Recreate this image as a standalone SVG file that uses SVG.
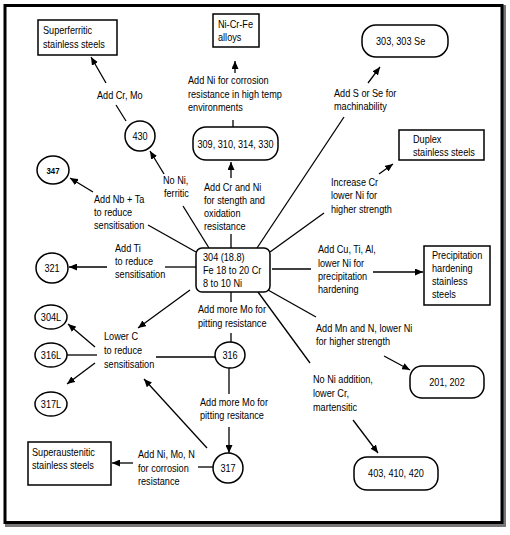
<svg xmlns="http://www.w3.org/2000/svg" width="510" height="535" viewBox="0 0 510 535">
<defs>
<marker id="ah" markerUnits="userSpaceOnUse" markerWidth="8" markerHeight="7" refX="8" refY="3.5" orient="auto">
<path d="M0,0 L8,3.5 L0,7 z" fill="#000"/>
</marker>
<style>
text{font-family:"Liberation Sans",Arial,sans-serif;font-size:10.5px;fill:#000}
.n{fill:#fff;stroke:#000;stroke-width:1.5}
.c{stroke:#000;stroke-width:1.3;fill:none}
.a{stroke:#000;stroke-width:1.3;fill:none;marker-end:url(#ah)}
.m{text-anchor:middle}
</style>
</defs>
<rect width="510" height="535" fill="#fff"/>
<rect x="7" y="7" width="497" height="518" fill="none" stroke="#777" stroke-width="4"/>
<rect x="5" y="5.5" width="497" height="517" fill="#fff" stroke="#000" stroke-width="3"/>

<g id="connectors">
<line class="a" x1="235" y1="73" x2="235" y2="61"/>
<line class="c" x1="233" y1="120" x2="233" y2="127"/>
<line class="a" x1="231" y1="178" x2="231" y2="162"/>
<line class="c" x1="231" y1="234" x2="231" y2="248"/>
<line class="c" x1="209" y1="248" x2="183" y2="206"/>
<line class="a" x1="164" y1="174" x2="150" y2="151"/>
<line class="c" x1="126" y1="121" x2="116" y2="105"/>
<line class="a" x1="106" y1="83" x2="91" y2="57"/>
<line class="c" x1="196" y1="252" x2="148" y2="225"/>
<line class="a" x1="93" y1="192" x2="70" y2="178"/>
<line class="c" x1="196" y1="267" x2="165" y2="267"/>
<line class="a" x1="107" y1="267" x2="69" y2="267"/>
<line class="a" x1="190" y1="290" x2="138" y2="328"/>
<line class="a" x1="95" y1="347" x2="68" y2="324"/>
<line class="c" x1="67" y1="355" x2="97" y2="355"/>
<line class="a" x1="95" y1="363" x2="67" y2="384"/>
<line class="c" x1="215" y1="357" x2="156" y2="357"/>
<line class="c" x1="231" y1="292" x2="231" y2="302"/>
<line class="c" x1="231" y1="333" x2="231" y2="342"/>
<line class="c" x1="229" y1="368" x2="229" y2="394"/>
<line class="a" x1="229" y1="427" x2="229" y2="453"/>
<line class="c" x1="213" y1="467" x2="198" y2="467"/>
<line class="a" x1="133" y1="463" x2="112" y2="463"/>
<line class="a" x1="207" y1="448" x2="144" y2="379"/>
<line class="c" x1="257" y1="248" x2="344" y2="117"/>
<line class="a" x1="368" y1="83" x2="380" y2="67"/>
<line class="c" x1="270" y1="252" x2="324" y2="213"/>
<line class="a" x1="379" y1="174" x2="393" y2="164"/>
<line class="c" x1="272" y1="269" x2="311" y2="269"/>
<line class="a" x1="373" y1="272" x2="423" y2="272"/>
<line class="c" x1="268" y1="290" x2="316" y2="317"/>
<line class="a" x1="384" y1="356" x2="410" y2="370"/>
<line class="c" x1="258" y1="292" x2="310" y2="363"/>
<line class="a" x1="353" y1="420" x2="378" y2="453"/>
</g>

<g id="labels">
<text transform="translate(188 84) scale(.87 1)">Add Ni for corrosion</text>
<text transform="translate(188 98) scale(.87 1)">resistance in high temp</text>
<text transform="translate(188 111) scale(.87 1)">environments</text>
<text transform="translate(204 191) scale(.87 1)">Add Cr and Ni</text>
<text transform="translate(204 204) scale(.87 1)">for stength and</text>
<text transform="translate(204 217) scale(.87 1)">oxidation</text>
<text transform="translate(204 230) scale(.87 1)">resistance</text>
<text transform="translate(163 184) scale(.87 1)">No Ni,</text>
<text transform="translate(164 197) scale(.87 1)">ferritic</text>
<text transform="translate(97 99) scale(.87 1)">Add Cr, Mo</text>
<text transform="translate(94 203) scale(.87 1)">Add Nb + Ta</text>
<text transform="translate(94 216) scale(.87 1)">to reduce</text>
<text transform="translate(94 229) scale(.87 1)">sensitisation</text>
<text transform="translate(115 252) scale(.87 1)">Add Ti</text>
<text transform="translate(115 265) scale(.87 1)">to reduce</text>
<text transform="translate(115 278) scale(.87 1)">sensitisation</text>
<text transform="translate(104 340) scale(.87 1)">Lower C</text>
<text transform="translate(104 354) scale(.87 1)">to reduce</text>
<text transform="translate(104 368) scale(.87 1)">sensitisation</text>
<text transform="translate(198 313) scale(.87 1)">Add more Mo for</text>
<text transform="translate(198 327) scale(.87 1)">pitting resistance</text>
<text transform="translate(200 406) scale(.87 1)">Add more Mo for</text>
<text transform="translate(200 419) scale(.87 1)">pitting resitance</text>
<text transform="translate(138 458) scale(.87 1)">Add Ni, Mo, N</text>
<text transform="translate(138 472) scale(.87 1)">for corrosion</text>
<text transform="translate(138 485) scale(.87 1)">resistance</text>
<text transform="translate(334 97) scale(.87 1)">Add S or Se for</text>
<text transform="translate(334 110) scale(.87 1)">machinability</text>
<text transform="translate(331 186) scale(.87 1)">Increase Cr</text>
<text transform="translate(331 199) scale(.87 1)">lower Ni for</text>
<text transform="translate(331 213) scale(.87 1)">higher strength</text>
<text transform="translate(318 253) scale(.87 1)">Add Cu, Ti, Al,</text>
<text transform="translate(318 267) scale(.87 1)">lower Ni for</text>
<text transform="translate(318 280) scale(.87 1)">precipitation</text>
<text transform="translate(318 293) scale(.87 1)">hardening</text>
<text transform="translate(316 332) scale(.87 1)">Add Mn and N, lower Ni</text>
<text transform="translate(316 345) scale(.87 1)">for higher strength</text>
<text transform="translate(313 383) scale(.87 1)">No Ni addition,</text>
<text transform="translate(313 397) scale(.87 1)">lower Cr,</text>
<text transform="translate(313 411) scale(.87 1)">martensitic</text>
</g>

<g id="n304">
<rect class="n" x="196" y="248" width="74" height="44" rx="6"/>
<text transform="translate(203 261) scale(.87 1)">304 (18.8)</text>
<text transform="translate(203 274) scale(.87 1)">Fe 18 to 20 Cr</text>
<text transform="translate(203 287) scale(.87 1)">8 to 10 Ni</text>
</g>
<g id="nSuperferritic">
<rect class="n" x="38" y="20" width="79" height="35"/>
<text transform="translate(43 34) scale(.87 1)">Superferritic</text>
<text transform="translate(43 48) scale(.87 1)">stainless steels</text>
</g>
<g id="nNiCrFe">
<rect class="n" x="213" y="14" width="46" height="33"/>
<text transform="translate(218 28) scale(.87 1)">Ni-Cr-Fe</text>
<text transform="translate(218 41) scale(.87 1)">alloys</text>
</g>
<g id="n309">
<rect class="n" x="193" y="127" width="85" height="33" rx="13"/>
<text class="m" transform="translate(235.5 148) scale(.87 1)">309, 310, 314, 330</text>
</g>
<g id="n430">
<ellipse class="n" cx="140" cy="136" rx="15" ry="15"/>
<text class="m" transform="translate(140 140) scale(.87 1)">430</text>
</g>
<g id="n347">
<ellipse class="n" cx="53" cy="170" rx="16" ry="14"/>
<text class="m" transform="translate(53 173.5) scale(.87 1)" style="font-size:9px;font-weight:bold">347</text>
</g>
<g id="n321">
<ellipse class="n" cx="52" cy="268" rx="16" ry="15"/>
<text class="m" transform="translate(52 272) scale(.87 1)">321</text>
</g>
<g id="n304L">
<ellipse class="n" cx="51" cy="317" rx="16" ry="12"/>
<text class="m" transform="translate(51 321) scale(.87 1)">304L</text>
</g>
<g id="n316L">
<ellipse class="n" cx="51" cy="355" rx="16" ry="12"/>
<text class="m" transform="translate(51 359) scale(.87 1)">316L</text>
</g>
<g id="n317L">
<ellipse class="n" cx="51" cy="404" rx="16" ry="12"/>
<text class="m" transform="translate(51 408) scale(.87 1)">317L</text>
</g>
<g id="n316">
<ellipse class="n" cx="230" cy="355" rx="15" ry="13"/>
<text class="m" transform="translate(230 359) scale(.87 1)">316</text>
</g>
<g id="n317">
<ellipse class="n" cx="228" cy="468" rx="15" ry="15"/>
<text class="m" transform="translate(228 472) scale(.87 1)">317</text>
</g>
<g id="nSuperaustenitic">
<rect class="n" x="28" y="442" width="83" height="43"/>
<text transform="translate(32 456) scale(.87 1)">Superaustenitic</text>
<text transform="translate(32 469) scale(.87 1)">stainless steels</text>
</g>
<g id="n303">
<rect class="n" x="362" y="25" width="86" height="32" rx="14"/>
<text transform="translate(376 45) scale(.87 1)">303, 303 Se</text>
</g>
<g id="nDuplex">
<rect class="n" x="399" y="130" width="85" height="30"/>
<text transform="translate(413 143) scale(.87 1)">Duplex</text>
<text transform="translate(413 156) scale(.87 1)">stainless steels</text>
</g>
<g id="nPrecipitation">
<rect class="n" x="424" y="246" width="66" height="59"/>
<text transform="translate(432 259) scale(.87 1)">Precipitation</text>
<text transform="translate(432 272) scale(.87 1)">hardening</text>
<text transform="translate(432 285) scale(.87 1)">stainless</text>
<text transform="translate(432 298) scale(.87 1)">steels</text>
</g>
<g id="n201">
<rect class="n" x="410" y="366" width="74" height="32" rx="12"/>
<text class="m" transform="translate(447 386) scale(.87 1)">201, 202</text>
</g>
<g id="n403">
<rect class="n" x="354" y="457" width="84" height="33" rx="13"/>
<text class="m" transform="translate(396 477) scale(.87 1)">403, 410, 420</text>
</g>
</svg>
